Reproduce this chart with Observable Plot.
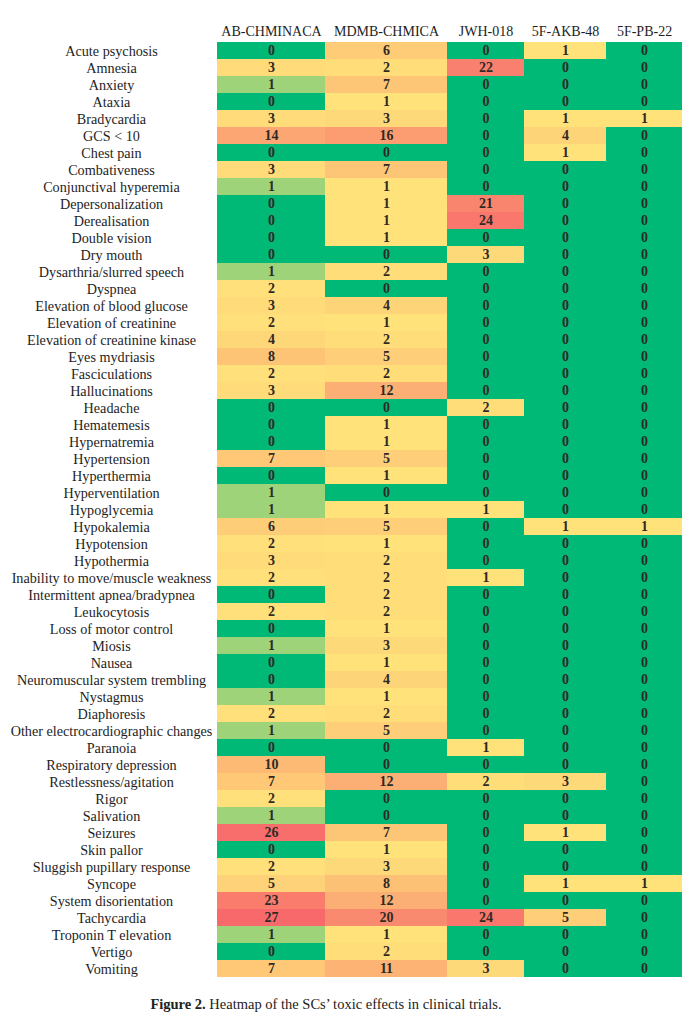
<!DOCTYPE html>
<html><head><meta charset="utf-8">
<script src="https://cdn.jsdelivr.net/npm/d3@7"></script>
<script src="https://cdn.jsdelivr.net/npm/@observablehq/plot@0.6"></script>
<style>
body{margin:0;background:#fff;}
#chart{position:absolute;left:0;top:0;}
#caption{position:absolute;top:996px;left:0;width:652px;text-align:center;font-family:"Liberation Serif",serif;font-size:14.5px;color:#222;}
</style></head><body>
<div id="chart"></div>
<div id="caption"><b>Figure 2.</b> Heatmap of the SCs’ toxic effects in clinical trials.</div>
<script>
const symptoms = ["Acute psychosis","Amnesia","Anxiety","Ataxia","Bradycardia","GCS < 10","Chest pain","Combativeness","Conjunctival hyperemia","Depersonalization","Derealisation","Double vision","Dry mouth","Dysarthria/slurred speech","Dyspnea","Elevation of blood glucose","Elevation of creatinine","Elevation of creatinine kinase","Eyes mydriasis","Fasciculations","Hallucinations","Headache","Hematemesis","Hypernatremia","Hypertension","Hyperthermia","Hyperventilation","Hypoglycemia","Hypokalemia","Hypotension","Hypothermia","Inability to move/muscle weakness","Intermittent apnea/bradypnea","Leukocytosis","Loss of motor control","Miosis","Nausea","Neuromuscular system trembling","Nystagmus","Diaphoresis","Other electrocardiographic changes","Paranoia","Respiratory depression","Restlessness/agitation","Rigor","Salivation","Seizures","Skin pallor","Sluggish pupillary response","Syncope","System disorientation","Tachycardia","Troponin T elevation","Vertigo","Vomiting"];
const compounds = ["AB-CHMINACA","MDMB-CHMICA","JWH-018","5F-AKB-48","5F-PB-22"];
const abChminaca = [0,3,1,0,3,14,0,3,1,0,0,0,0,1,2,3,2,4,8,2,3,0,0,0,7,0,1,1,6,2,3,2,0,2,0,1,0,0,1,2,1,0,10,7,2,1,26,0,2,5,23,27,1,0,7];
const mdmbChmica = [6,2,7,1,3,16,0,7,1,1,1,1,0,2,0,4,1,2,5,2,12,0,1,1,5,1,0,1,5,1,2,2,2,2,1,3,1,4,1,2,5,0,0,12,0,0,7,1,3,8,12,20,1,2,11];
const jwh018 = [0,22,0,0,0,0,0,0,0,21,24,0,3,0,0,0,0,0,0,0,0,2,0,0,0,0,0,1,0,0,0,1,0,0,0,0,0,0,0,0,0,1,0,2,0,0,0,0,0,0,0,24,0,0,3];
const akb48 = [1,0,0,0,1,4,1,0,0,0,0,0,0,0,0,0,0,0,0,0,0,0,0,0,0,0,0,0,1,0,0,0,0,0,0,0,0,0,0,0,0,0,0,3,0,0,1,0,0,1,0,5,0,0,0];
const pb22 = [0,0,0,0,1,0,0,0,0,0,0,0,0,0,0,0,0,0,0,0,0,0,0,0,0,0,0,0,1,0,0,0,0,0,0,0,0,0,0,0,0,0,0,0,0,0,0,0,0,1,0,0,0,0,0];
const series = [abChminaca, mdmbChmica, jwh018, akb48, pb22];

// layout / style constants
const colWidths = [108, 122, 77, 82, 76];
const colMids = [1.6, 1, 1, 1, 1];
const GREEN = "rgb(0,185,118)", YELLOW = "rgb(255,226,122)", RED = "rgb(248,105,107)";

const globalMax = d3.max(series.flat());
const edges = [0];
colWidths.forEach(w => edges.push(edges[edges.length - 1] + w));
const centers = colWidths.map((w, i) => edges[i] + w / 2);

const cells = [];
series.forEach((vals, c) => {
  const sc = d3.scaleLinear().domain([0, colMids[c], globalMax]).range([GREEN, YELLOW, RED]).interpolate(d3.interpolateRgb).clamp(true);
  vals.forEach((v, r) => {
    cells.push({symptom: symptoms[r], compound: compounds[c], value: v, x1: edges[c], x2: edges[c + 1], xc: centers[c], color: sc(v)});
  });
});

const plot = Plot.plot({
  width: 699, height: 990,
  marginTop: 37, marginBottom: 9, marginLeft: 217, marginRight: 17,
  style: {fontFamily: "'Liberation Serif', serif", background: "white", fontSize: "14px"},
  x: {type: "linear", domain: [0, edges[edges.length - 1]], axis: null},
  y: {type: "band", domain: symptoms, padding: 0, axis: null},
  color: {type: "identity"},
  marks: [
    Plot.barX(cells, {x1: "x1", x2: "x2", y: "symptom", fill: "color", inset: 0}),
    Plot.text(cells, {x: "xc", y: "symptom", text: d => String(d.value), fontWeight: "bold", fontSize: 14, fill: "#2e2a26"}),
    Plot.axisX({anchor: "top", ticks: centers, tickFormat: d => compounds[centers.indexOf(d)], tickSize: 0, tickPadding: 2, fontSize: 14, color: "#1e1e1e", stroke: "#1e1e1e", strokeWidth: 0.3, label: null}),
    Plot.axisY({anchor: "left", tickSize: 0, tickPadding: 0, textAnchor: "middle", dx: -106, fontSize: 14.2, color: "#1e1e1e", stroke: "#1e1e1e", strokeWidth: 0.3, label: null})
  ]
});
document.getElementById("chart").appendChild(plot);
</script>
</body></html>
